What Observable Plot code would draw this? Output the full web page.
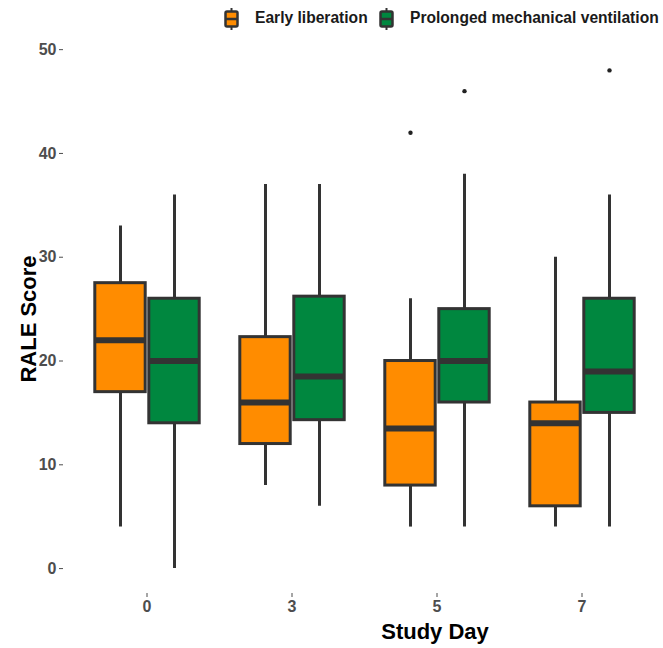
<!DOCTYPE html>
<html>
<head>
<meta charset="utf-8">
<script src="https://cdn.jsdelivr.net/npm/d3@7"></script>
<script src="https://cdn.jsdelivr.net/npm/@observablehq/plot@0.6"></script>
<style>
  body { margin: 0; background: #fff; font-family: "Liberation Sans", Arial, sans-serif; }
  #wrap { position: relative; width: 663px; }
  #legend { position: relative; width: 663px; height: 36px; }
  .key { position: absolute; top: 8px; }
  .lab { position: absolute; top: 9px; font: bold 15.6px "Liberation Sans", Arial, sans-serif; color: #1a1a1a; white-space: nowrap; line-height: 18px; }
</style>
</head>
<body>
<div id="wrap">
  <div id="legend"></div>
  <div id="chart"></div>
</div>
<script>
// ---- data ----
const days = ["0", "3", "5", "7"];
const groups = ["Early liberation", "Prolonged mechanical ventilation"];
const groupColors = ["#FF8C00", "#00873F"];

// Early liberation
const earlyLo  = [4, 8, 4, 4];
const earlyQ1  = [17, 12, 8, 6];
const earlyMed = [22, 16, 13.5, 14];
const earlyQ3  = [27.5, 22.3, 20, 16];
const earlyHi  = [33, 37, 26, 30];

// Prolonged mechanical ventilation
const prolLo  = [0, 6, 4, 4];
const prolQ1  = [14, 14.3, 16, 15];
const prolMed = [20, 18.5, 20, 19];
const prolQ3  = [26, 26.2, 25, 26];
const prolHi  = [36, 37, 38, 36];

// Outliers
const outlierDay   = ["5", "5", "7"];
const outlierGroup = ["Early liberation", "Prolonged mechanical ventilation", "Prolonged mechanical ventilation"];
const outlierValue = [42, 46, 48];

const yTicks = [0, 10, 20, 30, 40, 50];

// ---- build tables ----
const stats = [];
days.forEach((d, i) => {
  stats.push({day: d, group: groups[0], lo: earlyLo[i], q1: earlyQ1[i], med: earlyMed[i], q3: earlyQ3[i], hi: earlyHi[i]});
  stats.push({day: d, group: groups[1], lo: prolLo[i], q1: prolQ1[i], med: prolMed[i], q3: prolQ3[i], hi: prolHi[i]});
});
const outliers = outlierDay.map((d, i) => ({day: d, group: outlierGroup[i], value: outlierValue[i]}));

// ---- legend ----
const legend = document.getElementById("legend");
const keyLefts = [224, 379];
const labLefts = [255, 410];
groups.forEach((g, i) => {
  const k = document.createElement("div");
  k.className = "key";
  k.style.left = keyLefts[i] + "px";
  k.innerHTML = `<svg width="15" height="22">
    <line x1="7.5" x2="7.5" y1="0" y2="22" stroke="#333" stroke-width="2"/>
    <rect x="1.5" y="3.5" width="12" height="15" rx="1.5" fill="${groupColors[i]}" stroke="#333" stroke-width="2.5"/>
    <line x1="2" x2="13" y1="11" y2="11" stroke="#333" stroke-width="2.5"/>
  </svg>`;
  legend.appendChild(k);
  const t = document.createElement("div");
  t.className = "lab";
  t.style.left = labLefts[i] + "px";
  t.textContent = g;
  legend.appendChild(t);
});

// ---- chart ----
const W = 663, H = 612;
const chart = Plot.plot({
  width: W,
  height: H,
  marginLeft: 73,
  marginRight: 8,
  marginTop: 9,
  marginBottom: 55,
  style: {fontFamily: "'Liberation Sans', Arial, sans-serif", fontSize: "16px", fontWeight: "bold", background: "#fff"},
  fx: {domain: days, paddingInner: 0, paddingOuter: 0},
  x: {domain: groups, paddingInner: 0, paddingOuter: 0.333, axis: null},
  y: {domain: [-2.4, 50.4], axis: null},
  color: {domain: groups, range: groupColors},
  marks: [
    Plot.axisY({ticks: yTicks, tickSize: 4, tickPadding: 3, dx: -11, label: null, color: "#4d4d4d", fontSize: 16, fontWeight: "bold"}),
    Plot.axisFx({anchor: "bottom", tickSize: 4, tickPadding: 3, label: null, color: "#4d4d4d", fontSize: 16, fontWeight: "bold"}),
    Plot.ruleX(stats, {fx: "day", x: "group", y1: "lo", y2: "hi", stroke: "#333", strokeWidth: 3}),
    Plot.barY(stats, {fx: "day", x: "group", y1: "q1", y2: "q3", fill: "group", stroke: "#333", strokeWidth: 3, insetLeft: 1.8, insetRight: 1.8}),
    Plot.tickY(stats, {fx: "day", x: "group", y: "med", stroke: "#333", strokeWidth: 6, insetLeft: 1.8, insetRight: 1.8}),
    Plot.dot(outliers, {fx: "day", x: "group", y: "value", r: 2.2, fill: "#222", stroke: "none"})
  ]
});
document.getElementById("chart").appendChild(chart);

// axis titles
const svg = d3.select(chart);
svg.append("text")
  .attr("transform", `translate(28, ${(9 + (H - 55)) / 2}) rotate(-90)`)
  .attr("text-anchor", "middle")
  .attr("dy", "0.35em")
  .style("font-size", "22px")
  .style("font-weight", "bold")
  .attr("fill", "#000")
  .text("RALE Score");
svg.append("text")
  .attr("x", 435)
  .attr("y", H - 9)
  .attr("text-anchor", "middle")
  .style("font-size", "22px")
  .style("font-weight", "bold")
  .attr("fill", "#000")
  .text("Study Day");
</script>
</body>
</html>
